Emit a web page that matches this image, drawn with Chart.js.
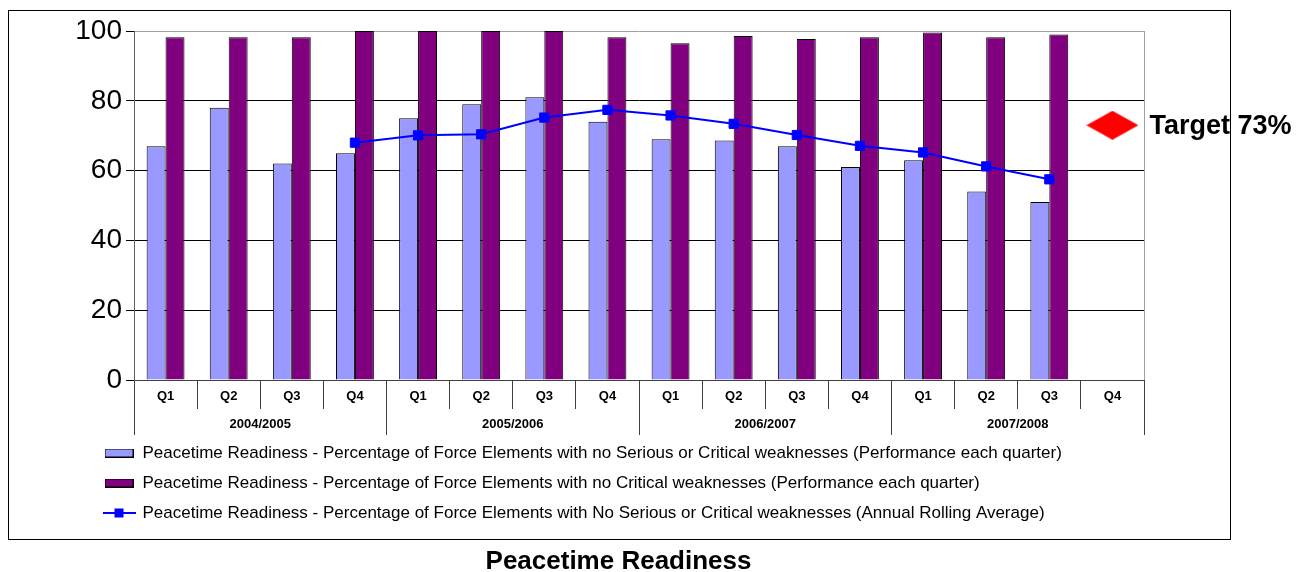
<!DOCTYPE html>
<html>
<head>
<meta charset="utf-8">
<script src="https://cdn.jsdelivr.net/npm/chart.js@4.4.1/dist/chart.umd.min.js"></script>
<style>
html,body{margin:0;padding:0;background:#fff;}
#wrap{width:1309px;height:572px;position:relative;}
</style>
</head>
<body>
<div id="wrap"><canvas id="c" width="1309" height="572"></canvas></div>
<script>
// ---- data ----
const quarters = ['Q1','Q2','Q3','Q4','Q1','Q2','Q3','Q4','Q1','Q2','Q3','Q4','Q1','Q2','Q3','Q4'];
const years = ['2004/2005','2005/2006','2006/2007','2007/2008'];
const noSeriousOrCritical = [67,78,62,65,75,79,81,74,69,68.6,67,61,63,54,51,null];
const noCritical = [98.2,98.2,98.2,100,100,100,100,98.2,96.5,98.6,97.7,98.2,99.6,98.2,99,null];
const rollingAverage = [null,null,null,68,70.1,70.4,75.2,77.4,75.8,73.4,70.2,67.1,65.2,61.2,57.5,null];
const targetValues = [null,null,null,null,null,null,null,null,null,null,null,null,null,null,null,73];
const seriesNames = [
  'Peacetime Readiness - Percentage of Force Elements with no Serious or Critical weaknesses (Performance each quarter)',
  'Peacetime Readiness - Percentage of Force Elements with no Critical weaknesses (Performance each quarter)',
  'Peacetime Readiness - Percentage of Force Elements with No Serious or Critical weaknesses (Annual Rolling Average)'
];
const targetLabel = 'Target 73%';
const chartTitle = 'Peacetime Readiness';

const FONT = "'Liberation Sans', Arial, Helvetica, sans-serif";
const LIGHT = '#9999FF', PURPLE = '#800080', BLUE = '#0000FF', RED = '#FF0000';

function mkCanvas(w, h, draw) {
  const c = document.createElement('canvas');
  c.width = w; c.height = h;
  draw(c.getContext('2d'));
  return c;
}
const keyLight = mkCanvas(29, 9, g => { g.fillStyle = LIGHT; g.fillRect(0.5,0.5,28,8); g.strokeStyle='#000'; g.lineWidth=1; g.strokeRect(0.5,0.5,28,8); });
const keyPurple = mkCanvas(29, 9, g => { g.fillStyle = PURPLE; g.fillRect(0.5,0.5,28,8); g.strokeStyle='#000'; g.lineWidth=1; g.strokeRect(0.5,0.5,28,8); });
const keyLine = mkCanvas(33, 10, g => { g.strokeStyle = BLUE; g.lineWidth = 2; g.beginPath(); g.moveTo(0,5); g.lineTo(33,5); g.stroke(); g.fillStyle = BLUE; g.fillRect(12,0.5,9,9); });
const diamond = mkCanvas(52, 29, g => { g.fillStyle = RED; g.beginPath(); g.moveTo(0,14.5); g.lineTo(26,0); g.lineTo(52,14.5); g.lineTo(26,29); g.closePath(); g.fill(); });

const decorPlugin = {
  id: 'decor',
  afterLayout(chart) {
    if (chart.legend) { chart.legend.left = 91; }
    if (chart.titleBlock) { chart.titleBlock.right = 1177; chart.titleBlock.top += 3; chart.titleBlock.bottom += 3; }
  },
  beforeDraw(chart) {
    const ctx = chart.ctx;
    ctx.save();
    ctx.strokeStyle = '#000';
    ctx.lineWidth = 1;
    ctx.strokeRect(8.5, 10.5, 1222, 529);
    ctx.restore();
  },
  beforeDatasetsDraw(chart) {
    const ctx = chart.ctx, a = chart.chartArea;
    ctx.save();
    ctx.strokeStyle = '#a0a0a0';
    ctx.lineWidth = 1;
    ctx.beginPath();
    ctx.moveTo(Math.round(a.right) + 0.5, a.top);
    ctx.lineTo(Math.round(a.right) + 0.5, a.bottom);
    ctx.stroke();
    ctx.restore();
  },
  afterDatasetsDraw(chart) {
    const meta = chart.getDatasetMeta(3);
    const el = meta.data[15];
    if (!el) return;
    const ctx = chart.ctx;
    ctx.save();
    ctx.fillStyle = '#000';
    ctx.font = 'bold 27px ' + FONT;
    ctx.textBaseline = 'middle';
    ctx.textAlign = 'left';
    ctx.fillText(targetLabel, el.x + 37, el.y + 1);
    ctx.restore();
  }
};

new Chart(document.getElementById('c'), {
  type: 'bar',
  data: {
    labels: quarters,
    datasets: [
      { label: seriesNames[0], data: noSeriousOrCritical, backgroundColor: LIGHT, borderColor: '#000', borderWidth: 1, categoryPercentage: 0.6, barPercentage: 1.0, order: 1 },
      { label: seriesNames[1], data: noCritical, backgroundColor: PURPLE, borderColor: '#000', borderWidth: 1, categoryPercentage: 0.6, barPercentage: 1.0, order: 1 },
      { type: 'line', label: seriesNames[2], data: rollingAverage, borderColor: BLUE, backgroundColor: BLUE, borderWidth: 2, pointStyle: 'rect', pointRadius: 6.5, pointBorderWidth: 1, pointBackgroundColor: BLUE, pointBorderColor: BLUE, fill: false, tension: 0, spanGaps: false, order: 0 },
      { type: 'line', label: targetLabel, data: targetValues, showLine: false, pointStyle: diamond, pointRadius: 20, borderColor: RED, backgroundColor: RED, order: -1 }
    ]
  },
  options: {
    responsive: false,
    animation: false,
    devicePixelRatio: 1,
    layout: { padding: { left: 60, right: 165, top: 31, bottom: 0 } },
    scales: {
      x: {
        type: 'category',
        position: 'bottom',
        offset: true,
        grid: { offset: true, drawOnChartArea: false, tickLength: 29, color: '#404040', lineWidth: 1 },
        border: { display: true, color: '#404040', width: 1 },
        ticks: { color: '#000', font: { family: FONT, size: 13, weight: 'bold' }, padding: -20, maxRotation: 0, autoSkip: false },
        afterFit: s => { s.height = 23; }
      },
      x2: {
        type: 'category',
        axis: 'x',
        position: 'bottom',
        labels: years,
        offset: true,
        grid: { offset: true, drawOnChartArea: false, tickLength: 32, color: '#404040', lineWidth: 1 },
        border: { display: false },
        ticks: { color: '#000', font: { family: FONT, size: 13, weight: 'bold' }, padding: -18, maxRotation: 0, autoSkip: false },
        afterFit: s => { s.height = 28.5; }
      },
      y: {
        min: 0, max: 100,
        ticks: { stepSize: 20, color: '#000', font: { family: FONT, size: 28 }, padding: 4 },
        grid: { color: c => (c.tick && c.tick.value === 100) ? '#a0a0a0' : '#000', tickLength: 8, lineWidth: 1, tickColor: '#000' },
        border: { display: true, color: '#606060', width: 1 },
        afterFit: s => { s.width = 74; }
      }
    },
    plugins: {
      tooltip: { enabled: false },
      legend: {
        display: true,
        position: 'bottom',
        align: 'start',
        maxHeight: 90,
        labels: {
          color: '#000',
          font: { family: FONT, size: 17 },
          padding: 13,
          usePointStyle: true,
          pointStyleWidth: 30,
          generateLabels: () => [
            { text: seriesNames[0], pointStyle: keyLight, fillStyle: LIGHT, strokeStyle: '#000', lineWidth: 0, hidden: false, datasetIndex: 0 },
            { text: seriesNames[1], pointStyle: keyPurple, fillStyle: PURPLE, strokeStyle: '#000', lineWidth: 0, hidden: false, datasetIndex: 1 },
            { text: seriesNames[2], pointStyle: keyLine, fillStyle: BLUE, strokeStyle: BLUE, lineWidth: 0, hidden: false, datasetIndex: 2 }
          ]
        }
      },
      title: {
        display: true,
        position: 'bottom',
        text: chartTitle,
        color: '#000',
        font: { family: FONT, size: 26, weight: 'bold', lineHeight: 1.0 },
        padding: { top: 24.5, bottom: 0 }
      }
    }
  },
  plugins: [decorPlugin]
});
</script>
</body>
</html>
